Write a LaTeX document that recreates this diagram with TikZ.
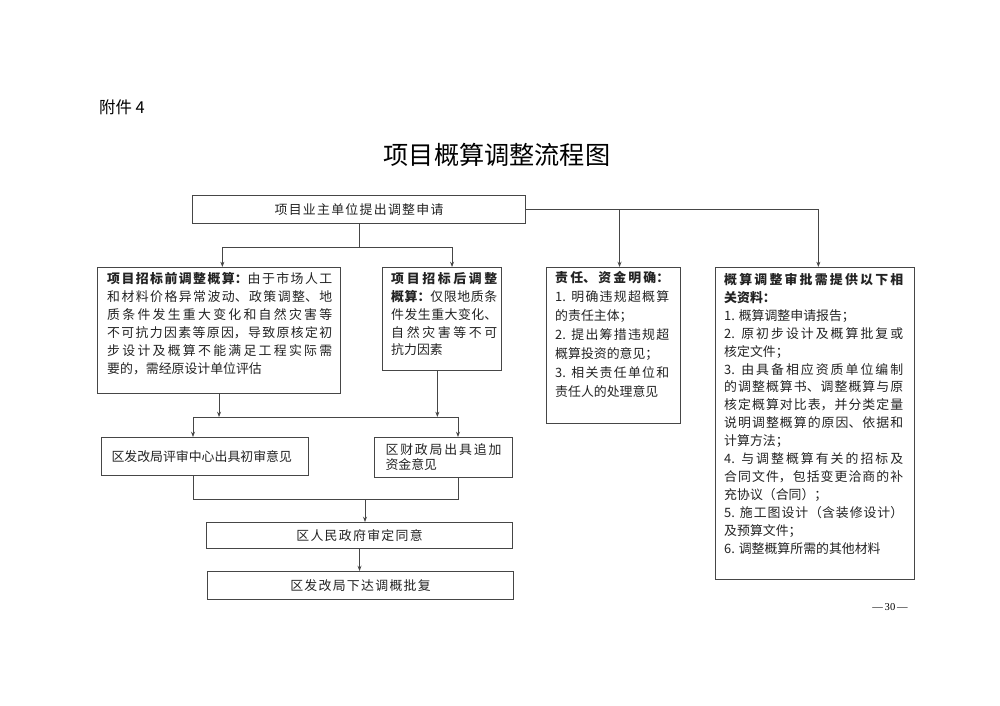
\documentclass[tikz,border=0pt]{standalone}
\usepackage{fontspec}
\setmainfont{Noto Sans CJK SC}
\newfontfamily\widecjk[LetterSpace=10]{Noto Sans CJK SC}
\newfontfamily\pagefont{Liberation Serif}
\usetikzlibrary{arrows.meta}
\definecolor{boxgray}{RGB}{70,70,70}
\definecolor{inkgray}{RGB}{35,35,35}
\XeTeXlinebreaklocale "zh"
\XeTeXlinebreakskip=0pt plus 3pt
\tolerance=10000
\hbadness=10000

\begin{document}
\begin{tikzpicture}[x=0.3mm,y=-0.3mm,
    flowbox/.style={draw=boxgray,line width=0.9pt,anchor=north west,inner sep=0pt,text=inkgray,font=\fontsize{11}{15}\selectfont},
    boxtext/.style={anchor=north west,inner sep=0pt,align=justify,text=inkgray,font=\fontsize{11}{#1}\selectfont},
    boxtext/.default=15.3,
    link/.style={draw=boxgray,line width=0.7pt},
    arrowlink/.style={link,-{Stealth[length=4.5pt,width=3.4pt]}}]
  \fill[white] (0,0) rectangle (1000,706);
  \node[anchor=west,font=\fontsize{14}{16}\selectfont] (annex) at (95,107) {附件 4};
  \node[font=\fontsize{21.5}{26}\selectfont] (title) at (497,155) {项目概算调整流程图};

  \node[flowbox,minimum width=99.9mm,minimum height=8.4mm] (apply) at (192,195) {\widecjk 项目业主单位提出调整申请};

  \node[flowbox,minimum width=72.9mm,minimum height=37.8mm] (pre) at (97,267) {};
  \node[boxtext=15.3,text width=67.5mm] (pre-text) at ([shift={(10,5)}]pre.north west) {{\bfseries 项目招标前调整概算：}由于市场人工\linebreak 和材料价格异常波动、政策调整、地\linebreak 质条件发生重大变化和自然灾害等\linebreak 不可抗力因素等原因，导致原核定初\linebreak 步设计及概算不能满足工程实际需\linebreak 要的，需经原设计单位评估};

  \node[flowbox,minimum width=35.7mm,minimum height=30.9mm] (post) at (382,267) {};
  \node[boxtext=15.3,text width=31.8mm] (post-text) at ([shift={(9,5)}]post.north west) {{\bfseries 项目招标后调整\linebreak 概算：}仅限地质条\linebreak 件发生重大变化、\linebreak 自然灾害等不可\linebreak 抗力因素};

  \node[flowbox,minimum width=40.2mm,minimum height=46.8mm] (duty) at (546,267) {};
  \node[boxtext=16.2,text width=34.2mm] (duty-text) at ([shift={(9,4)}]duty.north west) {{\bfseries 责任、资金明确：}\linebreak 1. 明确违规超概算\linebreak 的责任主体；\\2. 提出筹措违规超\linebreak 概算投资的意见；\\3. 相关责任单位和\linebreak 责任人的处理意见};

  \node[flowbox,minimum width=59.7mm,minimum height=93.6mm] (docs) at (715,267) {};
  \node[boxtext=15.3,text width=53.7mm] (docs-text) at ([shift={(9,6)}]docs.north west) {{\bfseries 概算调整审批需提供以下相\linebreak 关资料：}\\1. 概算调整申请报告；\\2. 原初步设计及概算批复或\linebreak 核定文件；\\3. 由具备相应资质单位编制\linebreak 的调整概算书、调整概算与原\linebreak 核定概算对比表，并分类定量\linebreak 说明调整概算的原因、依据和\linebreak 计算方法；\\4. 与调整概算有关的招标及\linebreak 合同文件，包括变更洽商的补\linebreak 充协议（合同）；\\5. 施工图设计（含装修设计）\linebreak 及预算文件；\\6. 调整概算所需的其他材料};

  \node[flowbox,minimum height=11.4mm,text width=56.1mm,inner xsep=3mm,align=left] (review) at (101,437) {区发改局评审中心出具初审意见};
  \node[flowbox,minimum height=12mm,text width=34.8mm,inner xsep=3.3mm,align=justify,font=\fontsize{11}{12.8}\selectfont] (fund) at (374,437) {区财政局出具追加\linebreak 资金意见};
  \node[flowbox,minimum width=91.8mm,minimum height=7.8mm] (gov) at (206,522) {\widecjk 区人民政府审定同意};
  \node[flowbox,minimum width=91.8mm,minimum height=8.4mm] (reply) at (207,571) {\widecjk 区发改局下达调概批复};

  \node[font=\pagefont\fontsize{9}{10}\selectfont] (pageno) at (890,607) {—\,30\,—};

  \coordinate (levA) at (0,247);
  \coordinate (barBl) at (193,417);
  \coordinate (barBr) at (458,417);
  \coordinate (barCl) at (193,499);
  \coordinate (barCr) at (458,499);
  \coordinate (barCm) at (365,499);

  \draw[link] (apply.south) -- (apply.south |- levA);
  \draw[arrowlink] (apply.south |- levA) -| ([xshift=1mm]pre.north);
  \draw[arrowlink] (apply.south |- levA) -| ([xshift=3mm]post.north);
  \draw[arrowlink] (apply.east) -| ([xshift=1.8mm]duty.north);
  \draw[arrowlink] (apply.east) -| ([xshift=1mm]docs.north);

  \draw[arrowlink] (pre.south) -- (pre.south |- barBl);
  \draw[arrowlink] ([xshift=-1.4mm]post.south) -- ([xshift=-1.4mm]post.south |- barBl);
  \draw[link] (barBl) -- (barBr);
  \draw[arrowlink] (barBl) -- (barBl |- review.north);
  \draw[arrowlink] (barBr) -- (barBr |- fund.north);

  \draw[link] (barCl |- review.south) -- (barCl) -- (barCr) -- (barCr |- fund.south);
  \draw[arrowlink] (barCm) -- (barCm |- gov.north);
  \draw[arrowlink] (gov.south) -- (gov.south |- reply.north);
\end{tikzpicture}
\end{document}
